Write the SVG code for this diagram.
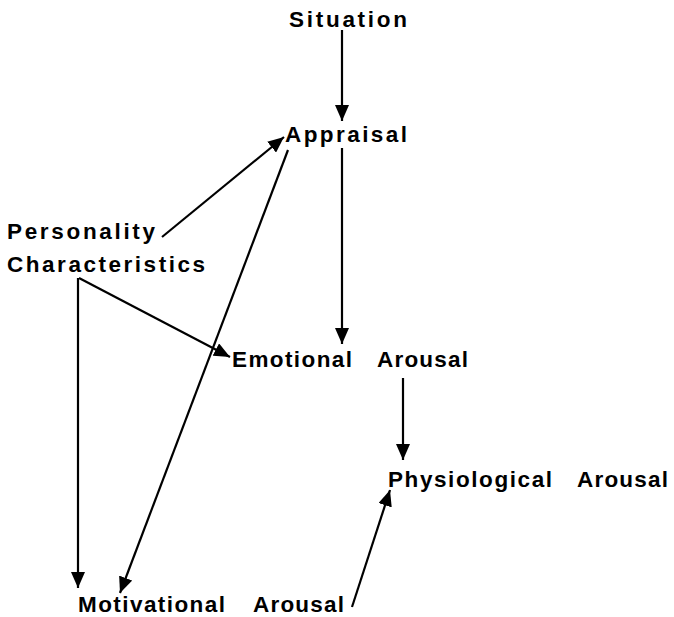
<svg xmlns="http://www.w3.org/2000/svg" width="674" height="617" viewBox="0 0 674 617">
  <style>
    .lbl { font-family: "Liberation Sans", Arial, Helvetica, sans-serif; font-weight: bold; font-size: 22.5px; fill: #000; }
    .edge { stroke: #000; stroke-width: 2.2; fill: none; marker-end: url(#head); }
  </style>
  <defs>
    <marker id="head" markerUnits="userSpaceOnUse" markerWidth="17" markerHeight="14" refX="16" refY="7" orient="auto">
      <path d="M0,0 L16,7 L0,14 z" fill="#000"/>
    </marker>
  </defs>
  <rect width="674" height="617" fill="#fff"/>

  <g id="connectors">
    <!-- Situation to Appraisal -->
    <path class="edge" d="M342,30 L342,121"/>
    <!-- Appraisal to Emotional Arousal -->
    <path class="edge" d="M342,148 L342,344"/>
    <!-- Emotional Arousal to Physiological Arousal -->
    <path class="edge" d="M403,378 L403,460"/>
    <!-- Personality Characteristics to Appraisal -->
    <path class="edge" d="M162,237 L284,137"/>
    <!-- Appraisal to Motivational Arousal -->
    <path class="edge" d="M288,150 L120,593"/>
    <!-- Personality Characteristics to Emotional Arousal -->
    <path class="edge" d="M79,278 L230,357"/>
    <!-- Personality Characteristics to Motivational Arousal -->
    <path class="edge" d="M78,278 L78,588"/>
    <!-- Motivational Arousal to Physiological Arousal -->
    <path class="edge" d="M352,607 L390,490"/>
  </g>

  <g id="situation">
    <text class="lbl" x="289" y="27" textLength="118" lengthAdjust="spacing">Situation</text>
  </g>
  <g id="appraisal">
    <text class="lbl" x="285" y="142" textLength="122" lengthAdjust="spacing">Appraisal</text>
  </g>
  <g id="personality">
    <text class="lbl" x="7" y="239" textLength="148" lengthAdjust="spacing">Personality</text>
    <text class="lbl" x="7" y="272" textLength="198" lengthAdjust="spacing">Characteristics</text>
  </g>
  <g id="emotional-arousal">
    <text class="lbl" x="232" y="367" textLength="120" lengthAdjust="spacing">Emotional</text>
    <text class="lbl" x="377" y="367" textLength="91" lengthAdjust="spacing">Arousal</text>
  </g>
  <g id="physiological-arousal">
    <text class="lbl" x="388" y="487" textLength="164" lengthAdjust="spacing">Physiological</text>
    <text class="lbl" x="577" y="487" textLength="91" lengthAdjust="spacing">Arousal</text>
  </g>
  <g id="motivational-arousal">
    <text class="lbl" x="78" y="612" textLength="147" lengthAdjust="spacing">Motivational</text>
    <text class="lbl" x="253" y="612" textLength="91" lengthAdjust="spacing">Arousal</text>
  </g>
</svg>
